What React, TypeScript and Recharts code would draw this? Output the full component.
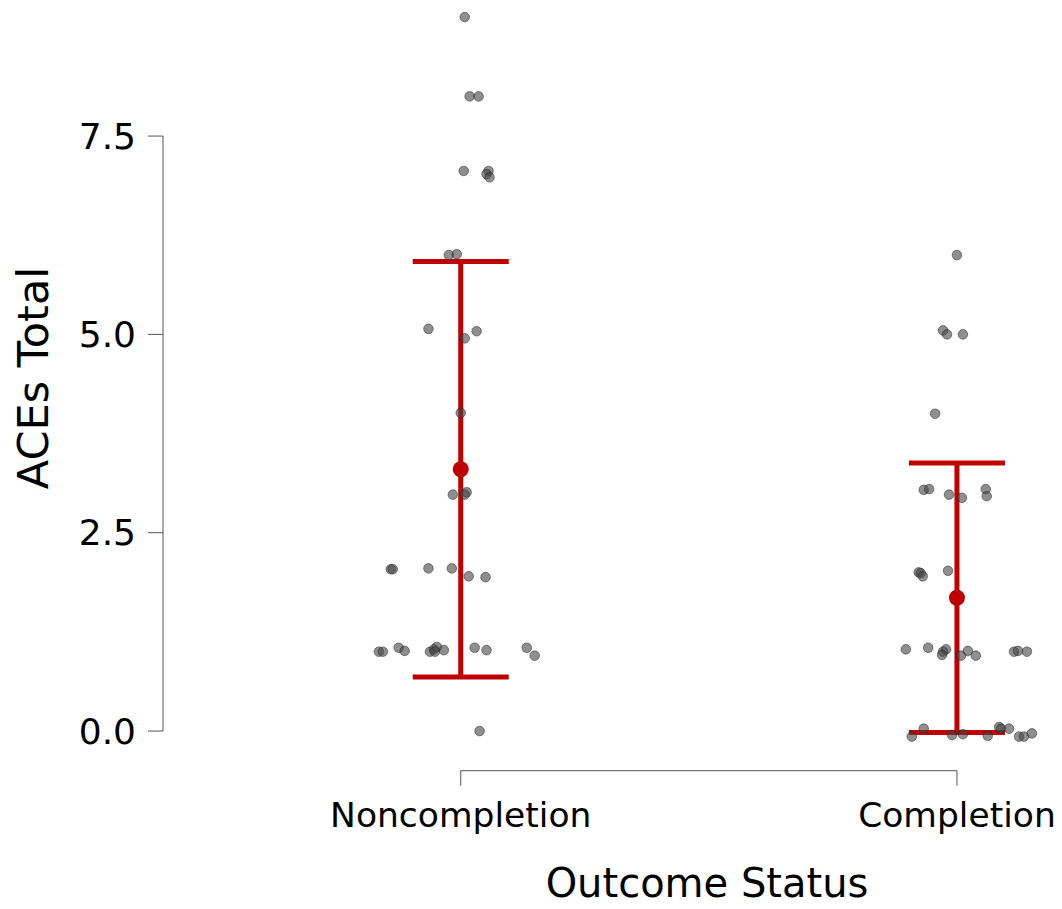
import { ComposedChart, Scatter, XAxis, YAxis, ErrorBar, ReferenceLine, Customized } from 'recharts';

const groups = ['Noncompletion', 'Completion'];
const yTicks = [0, 2.5, 5, 7.5];

// jittered raw points
const nonX = [1.008, 1.018, 1.036, 1.006, 1.056, 1.052, 1.058, 0.976, 0.992, 0.935, 1.008, 1.032, 1.0, 0.984, 1.012, 1.008, 0.859, 0.863, 0.935, 0.982, 1.016, 1.05, 0.835, 0.843, 0.875, 0.887, 0.938, 0.946, 0.952, 0.948, 0.966, 1.028, 1.052, 1.133, 1.149, 1.038];
const nonY = [9.0, 8.0, 8.0, 7.06, 7.06, 7.02, 6.98, 6.0, 6.01, 5.07, 4.95, 5.04, 4.01, 2.98, 3.01, 2.98, 2.04, 2.04, 2.05, 2.05, 1.95, 1.94, 1.0, 1.0, 1.05, 1.01, 1.0, 1.03, 1.06, 1.0, 1.02, 1.05, 1.02, 1.05, 0.95, 0.0];
const compX = [2.0, 1.972, 1.98, 2.012, 1.956, 1.933, 1.944, 1.984, 2.01, 2.058, 2.06, 1.923, 1.927, 1.931, 1.982, 1.897, 1.942, 1.978, 1.972, 1.97, 2.008, 2.022, 2.038, 2.115, 2.123, 2.141, 1.933, 1.909, 1.99, 2.012, 2.062, 2.085, 2.089, 2.105, 2.125, 2.135, 2.151];
const compY = [6.0, 5.05, 5.0, 5.0, 4.0, 3.04, 3.05, 2.98, 2.94, 3.05, 2.96, 2.0, 1.99, 1.95, 2.02, 1.03, 1.05, 1.03, 1.0, 0.96, 0.95, 1.01, 0.95, 1.0, 1.01, 1.0, 0.03, -0.07, -0.05, -0.04, -0.06, 0.05, 0.03, 0.03, -0.07, -0.07, -0.03];

const means = [3.3, 1.68];
const sds = [2.62, 1.7];

const RED = '#c00000';
const FONT = "'DejaVu Sans', sans-serif";

const pointsData = [
  ...nonX.map((x, i) => ({ x, y: nonY[i] })),
  ...compX.map((x, i) => ({ x, y: compY[i] })),
];
const meanData = means.map((m, i) => ({ x: i + 1, y: m, sd: sds[i] }));

const AxisTitles = () => (
  <g fontFamily={FONT} fill="#000">
    <text x={707} y={897} textAnchor="middle" fontSize={40}>Outcome Status</text>
    <text transform="translate(48, 378) rotate(-90)" textAnchor="middle" fontSize={43}>ACEs Total</text>
  </g>
);

export default function App() {
  return (
    <div style={{ width: 1062, height: 909, background: '#fff' }}>
      <style>{`body { margin: 0; }`}</style>
      <ComposedChart
        width={1062}
        height={909}
        margin={{ top: 1.2, right: 5.8, left: 63, bottom: 38.3 }}
      >
        <XAxis
          type="number"
          dataKey="x"
          domain={[0.4, 2.2]}
          ticks={[1, 2]}
          tickFormatter={(v) => groups[v - 1]}
          axisLine={false}
          tickLine={{ stroke: '#555' }}
          tickSize={15}
          tickMargin={17}
          height={100}
          allowDataOverflow
          tick={{ fontSize: 34.5, fill: '#000', fontFamily: FONT }}
        />
        <YAxis
          type="number"
          dataKey="y"
          domain={[-0.5, 9.2]}
          ticks={yTicks}
          tickFormatter={(v) => v.toFixed(1)}
          axisLine={false}
          tickLine={{ stroke: '#555' }}
          tickSize={15}
          tickMargin={12}
          width={100}
          allowDataOverflow
          tick={{ fontSize: 36, fill: '#000', fontFamily: FONT }}
        />
        <ReferenceLine segment={[{ x: 0.4, y: 0 }, { x: 0.4, y: 7.5 }]} stroke="#555" ifOverflow="visible" />
        <ReferenceLine segment={[{ x: 1, y: -0.5 }, { x: 2, y: -0.5 }]} stroke="#555" ifOverflow="visible" />
        <Scatter
          data={pointsData}
          isAnimationActive={false}
          shape={(p: any) => (
            <circle cx={p.cx} cy={p.cy} r={4.8} fill="#444" fillOpacity={0.6} stroke="#222" strokeOpacity={0.5} />
          )}
        />
        <Scatter
          data={meanData}
          isAnimationActive={false}
          shape={(p: any) => <circle cx={p.cx} cy={p.cy} r={8} fill={RED} />}
        >
          <ErrorBar dataKey="sd" direction="y" width={48} stroke={RED} strokeWidth={5} />
        </Scatter>
        <Customized component={AxisTitles} />
      </ComposedChart>
    </div>
  );
}
